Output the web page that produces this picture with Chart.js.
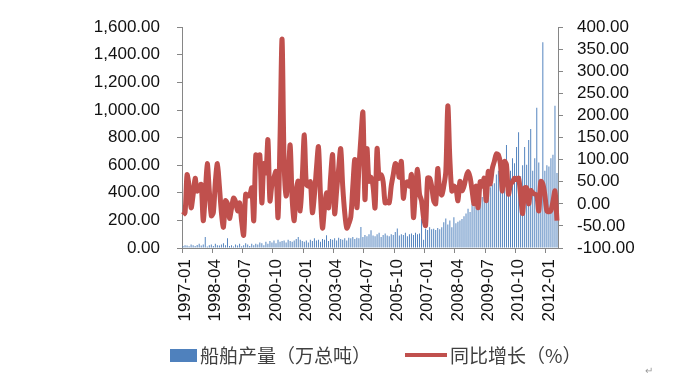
<!DOCTYPE html>
<html>
<head>
<meta charset="utf-8">
<script src="https://cdn.jsdelivr.net/npm/chart.js@4.4.1/dist/chart.umd.min.js"></script>
<style>
  html, body { margin: 0; padding: 0; background: #ffffff; }
  #wrap { position: relative; width: 685px; height: 382px; overflow: hidden; }
  canvas { position: absolute; left: 0; top: 0; }
  .lg { position: absolute; font-family: "Noto Sans CJK SC", sans-serif; font-size: 19px; color: #404040; line-height: 20px; white-space: nowrap; }
  .sw { position: absolute; }
</style>
</head>
<body>
<div id="wrap">
  <canvas id="c" width="685" height="382"></canvas>
  <div class="sw" style="left:170px;top:349px;width:27px;height:13px;background:#4F81BD;"></div>
  <div class="lg" style="left:200px;top:345px;">船舶产量（万总吨）</div>
  <div class="sw" style="left:405px;top:353px;width:42px;height:4px;background:#C0504D;"></div>
  <div class="lg" style="left:450px;top:345px;">同比增长（%）</div>
  <div class="lg" style="left:645px;top:360px;font-size:10px;color:#9a9a9a;">↵</div>
</div>
<script>
// ---- data ----
const startYear = 1997;
const monthCount = 186; // 1997-01 .. 2012-06
const categories = [];
for (let i = 0; i < monthCount; i++) {
  const y = startYear + Math.floor(i / 12);
  const m = (i % 12) + 1;
  categories.push(y + '-' + (m < 10 ? '0' + m : '' + m));
}

// 船舶产量（万总吨）
const shipOutput = [
  15, 20, 18, 12, 25, 20, 15, 22, 30, 18, 25, 80,
  10, 20, 25, 15, 30, 20, 18, 25, 35, 20, 70, 15,
  20, 10, 25, 18, 30, 12, 20, 35, 25, 15, 30, 20,
  30, 25, 40, 35, 20, 45, 30, 50, 40, 55, 35, 60,
  45, 50, 55, 40, 60, 50, 45, 55, 65, 80, 60, 50,
  45, 55, 40, 60, 50, 70, 55, 60, 45, 65, 60, 92,
  50, 65, 60, 70, 55, 75, 65, 60, 70, 55, 75, 70,
  80, 65, 75, 70, 152, 80, 95, 85, 100, 128, 90, 85,
  100, 110, 80, 95, 105, 90, 85, 100, 95, 116, 142, 90,
  100, 95, 110, 85, 100, 105, 95, 110, 100, 105, 213, 60,
  140, 130, 150, 135, 140, 130, 145, 135, 150, 187, 213, 170,
  200, 150, 223, 180, 190, 200, 210, 230, 250, 284, 260, 320,
  300, 330, 350, 391, 370, 430, 462, 420, 440, 460, 470, 533,
  560, 500, 600, 520, 747, 480, 560, 650, 614, 732, 839, 520,
  600, 732, 604, 782, 863, 560, 650, 1017, 620, 500, 1491, 560,
  600, 590, 650, 675, 1031, 543
];

// 同比增长（%）
const yoyGrowth = [
  -25, -20, 66, 40, -9, 20, 58, 29, 35, 44, -38, 20,
  91, 30, -27, -20, 50, 91, 40, -20, -53, 7, 0, -33,
  -10, 13, 5, -16, 2, -40, -71, 22, 18, 20, 36, -38,
  111, 108, 111, 2, 91, 70, 145, 7, 44, 60, 73, -31,
  150, 373, 96, 18, 60, 133, 10, -38, 30, 51, -16, 60,
  156, 44, 40, 50, -20, 20, 80, 129, 20, -55, -10, 25,
  -9, 60, 111, -22, 30, 80, 125, 40, -20, -55, -45, -30,
  40, 100, -9, 80, 150, 207, 10, 125, 51, 60, 40, -9,
  125, 58, 66, 50, 2, 5, 2, 40, 66, 91, 85, 60,
  96, 13, 44, 50, 40, 66, -31, 30, 78, 22, 7, -31,
  -49, 58, 58, 40, 7, 0, 80, 29, 20, 40, 73, 222,
  102, 29, 40, 35, 7, 51, 30, 40, 60, 73, 60, 30,
  0, 40, -9, 50, 40, 58, 7, 73, 45, 80, 96, 113,
  111, 91, 29, 96, 89, 22, 44, 50, 58, 55, 58, 20,
  -22, 36, 36, 0, 30, 25, 22, 20, -16, 51, 45, 20,
  -16, -18, -15, 5, 29, -38
];

const labelEvery = 15;
const leftTicks = { min: 0, max: 1600, step: 200 };
const rightTicks = { min: -100, max: 400, step: 50 };

// ---- chart ----
const axisColor = '#868686';
const tickFont = { family: '"Liberation Sans", Arial, sans-serif', size: 17 };
const fmt = v => Number(v).toLocaleString('en-US', { minimumFractionDigits: 2, maximumFractionDigits: 2 });

new Chart(document.getElementById('c'), {
  data: {
    labels: categories,
    datasets: [
      {
        type: 'line',
        label: '同比增长（%）',
        data: yoyGrowth,
        yAxisID: 'y1',
        borderColor: '#C0504D',
        backgroundColor: '#C0504D',
        borderWidth: 5,
        pointRadius: 0,
        tension: 0.3,
        order: 0
      },
      {
        type: 'bar',
        label: '船舶产量（万总吨）',
        data: shipOutput,
        yAxisID: 'y',
        backgroundColor: '#4F81BD',
        barPercentage: 0.48,
        categoryPercentage: 1.0,
        order: 1
      }
    ]
  },
  options: {
    responsive: false,
    animation: false,
    layout: { padding: { top: 23, left: 0, right: 0, bottom: 50 } },
    plugins: { legend: { display: false }, tooltip: { enabled: false } },
    scales: {
      x: {
        type: 'category',
        offset: true,
        grid: {
          offset: true,
          drawOnChartArea: false,
          drawTicks: true,
          tickLength: 5,
          color: ctx => (ctx.index % labelEvery === 0 ? axisColor : 'rgba(0,0,0,0)')
        },
        border: { display: true, color: axisColor, width: 1 },
        ticks: {
          autoSkip: false,
          minRotation: 90,
          maxRotation: 90,
          padding: 6,
          labelOffset: 2,
          color: '#111111',
          font: tickFont,
          callback: function (v, i) { return i % labelEvery === 0 ? categories[i] : ''; }
        },
        afterFit: s => { s.height = 84; }
      },
      y: {
        position: 'left',
        min: leftTicks.min, max: leftTicks.max,
        grid: { drawOnChartArea: false, drawTicks: true, tickLength: 5, color: axisColor },
        border: { display: true, color: axisColor, width: 1 },
        ticks: { autoSkip: false, stepSize: leftTicks.step, padding: 17, color: '#111111', font: tickFont, callback: v => fmt(v) },
        afterFit: s => { s.width = 182; }
      },
      y1: {
        position: 'right',
        min: rightTicks.min, max: rightTicks.max,
        grid: { drawOnChartArea: false, drawTicks: true, tickLength: 5, color: axisColor },
        border: { display: true, color: axisColor, width: 1 },
        ticks: { autoSkip: false, stepSize: rightTicks.step, padding: 14, color: '#111111', font: tickFont, callback: v => fmt(v) },
        afterFit: s => { s.width = 127; }
      }
    }
  }
});
</script>
</body>
</html>
